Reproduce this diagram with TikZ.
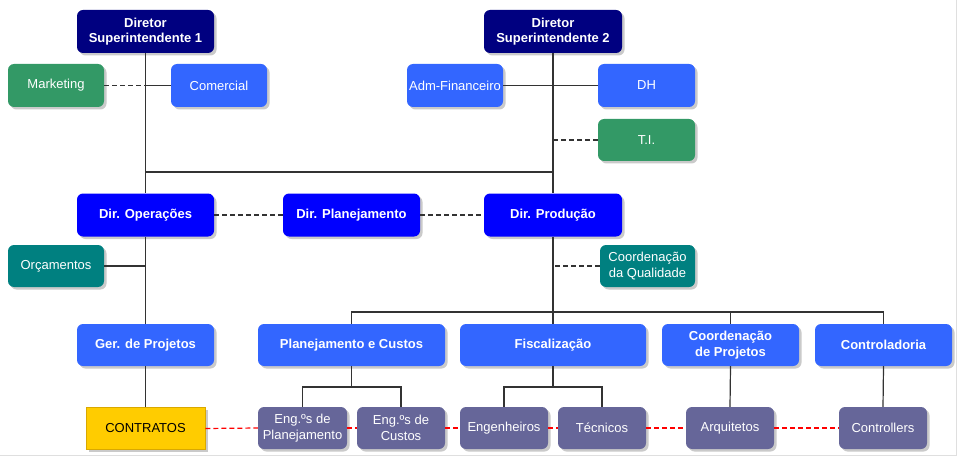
\documentclass[tikz,border=0pt]{standalone}
\usepackage{fontspec}
\setmainfont{Liberation Sans}
\usetikzlibrary{shadows}
\definecolor{navyc}{HTML}{000080}
\definecolor{bluec}{HTML}{3366FF}
\definecolor{pureb}{HTML}{0000FF}
\definecolor{greenc}{HTML}{339966}
\definecolor{tealc}{HTML}{008080}
\definecolor{purpc}{HTML}{666699}
\definecolor{yellc}{HTML}{FFCC00}
\definecolor{goldc}{HTML}{D9A800}
\definecolor{linec}{HTML}{333333}
\begin{document}
\begin{tikzpicture}[x=1pt,y=-1pt,
  box/.style={rounded corners=6pt, minimum height=43pt, inner sep=0pt, text=white, align=center,
    font=\fontsize{13}{15.5}\selectfont,
    drop shadow={opacity=0.35, shadow xshift=2.5pt, shadow yshift=-2.5pt, fill=black!60}},
  bbox/.style={box, font=\fontsize{13}{15.5}\selectfont\bfseries},
  small/.style={box, minimum height=42pt},
  solidln/.style={draw=linec, line width=1.2pt},
  dashln/.style={draw=linec, line width=1.2pt, dash pattern=on 5pt off 3pt},
  redln/.style={draw=red, line width=1.2pt, dash pattern=on 5pt off 3pt}]
\useasboundingbox (0,0) rectangle (960,457);
\draw[gray!25, line width=1pt] (956,0) -- (956,455) -- (0,455);
% nodes
\node[bbox, fill=navyc, minimum width=137pt] (d1) at (145.5,31.5) {Diretor\\Superintendente 1};
\node[box, fill=greenc, minimum width=96pt] (mkt) at (56,85.5) {Marketing};
\node[box, fill=bluec, minimum width=96pt] (com) at (219,85.5) {Comercial};
\node[bbox, fill=navyc, minimum width=138pt] (d2) at (553,31.5) {Diretor\\Superintendente 2};
\node[box, fill=bluec, minimum width=96pt] (adm) at (455,85.5) {Adm-Financeiro};
\node[box, fill=bluec, minimum width=97pt] (dh) at (646.5,85.5) {DH};
\node[box, fill=greenc, minimum width=97pt, minimum height=42pt] (ti) at (646.5,140) {T.I.};
\node[bbox, fill=pureb, minimum width=137pt] (op) at (145.5,215) {Dir. Operações};
\node[bbox, fill=pureb, minimum width=137pt] (pl) at (351.5,215) {Dir. Planejamento};
\node[bbox, fill=pureb, minimum width=138pt] (pr) at (553,215) {Dir. Produção};
\node[box, fill=tealc, minimum width=96pt, minimum height=42pt] (orc) at (56,266) {Orçamentos};
\node[box, fill=tealc, minimum width=95pt, minimum height=42pt] (cq) at (647.5,266) {Coordenação\\da Qualidade};
\node[bbox, fill=bluec, minimum width=137pt, minimum height=42pt] (gp) at (145.5,345) {Ger. de Projetos};
\node[bbox, fill=bluec, minimum width=187pt, minimum height=42pt] (pc) at (351.5,345) {Planejamento e Custos};
\node[bbox, fill=bluec, minimum width=186pt, minimum height=42pt] (fi) at (553,345) {Fiscalização};
\node[bbox, fill=bluec, minimum width=137pt, minimum height=42pt] (cp) at (730.5,345) {Coordenação\\de Projetos};
\node[bbox, fill=bluec, minimum width=137pt, minimum height=42pt] (ct) at (883.5,345) {Controladoria};
\node[box, rounded corners=0pt, fill=yellc, draw=goldc, line width=0.8pt, text=black, minimum width=119pt, minimum height=42pt] (con) at (145.5,428.5) {CONTRATOS};
\node[small, fill=purpc, minimum width=89pt] (ep) at (302.5,428) {Eng.ºs de\\Planejamento};
\node[small, fill=purpc, minimum width=88pt] (ec) at (401,428) {Eng.ºs de\\Custos};
\node[small, fill=purpc, minimum width=88pt] (en) at (504,428) {Engenheiros};
\node[small, fill=purpc, minimum width=88pt] (te) at (602,428) {Técnicos};
\node[small, fill=purpc, minimum width=88pt] (ar) at (730,428) {Arquitetos};
\node[small, fill=purpc, minimum width=88pt] (cl) at (883,428) {Controllers};
% coordinates
\coordinate (j1) at (145.5,172);
\coordinate (j2) at (553,172);
\coordinate (bus) at (0,312);
\coordinate (sb) at (0,387);
% connectors
\draw[solidln] (d1.south) -- (op.north);
\draw[solidln] (d2.south) -- (pr.north);
\draw[solidln] (j1) -- (j2);
\draw[solidln] (com.west) -- (com.west -| d1.south);
\draw[dashln] (mkt.east) -- (mkt.east -| d1.south);
\draw[solidln] (adm.east) -- (dh.west);
\draw[dashln] (ti.west) -- (ti.west -| d2.south);
\draw[dashln] (op.east) -- (pl.west);
\draw[dashln] (pl.east) -- (pr.west);
\draw[solidln] (orc.east) -- (orc.east -| op.south);
\draw[dashln] (cq.west) -- (cq.west -| pr.south);
\draw[solidln] (op.south) -- (gp.north);
\draw[solidln] (gp.south) -- (con.north);
\draw[solidln] (pr.south) -- (fi.north);
\draw[solidln] (pc.north) -- (pc.north |- bus) -- (ct.north |- bus) -- (ct.north);
\draw[solidln] (cp.north) -- (cp.north |- bus);
\draw[solidln] (pc.south) -- (pc.south |- sb);
\draw[solidln] (ep.north) -- (ep.north |- sb) -- (ec.north |- sb) -- (ec.north);
\draw[solidln] (fi.south) -- (fi.south |- sb);
\draw[solidln] (en.north) -- (en.north |- sb) -- (te.north |- sb) -- (te.north);
\draw[solidln] (cp.south) -- (ar.north);
\draw[solidln] (ct.south) -- (cl.north);
\draw[redln] (con.east) -- (ep.west);
\draw[redln] (ep.east) -- (ec.west);
\draw[redln] (ec.east) -- (en.west);
\draw[redln] (en.east) -- (te.west);
\draw[redln] (te.east) -- (ar.west);
\draw[redln] (ar.east) -- (cl.west);
\end{tikzpicture}
\end{document}
